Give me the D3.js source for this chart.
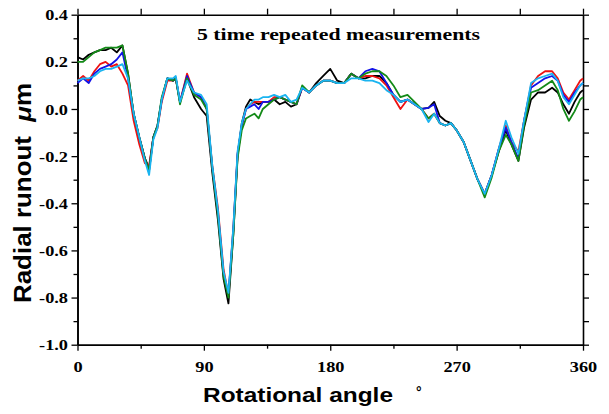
<!DOCTYPE html>
<html>
<head>
<meta charset="utf-8">
<script src="https://cdn.jsdelivr.net/npm/d3@7"></script>
<style>
  html, body { margin: 0; padding: 0; background: #fff; }
  svg { display: block; }
</style>
</head>
<body>
<svg id="chart" width="609" height="414"></svg>
<script>
// Rotational angle (degrees) at which each run was sampled
const angles = [0,4,8,12,16,20,24,28,32,
  36,40,44,48,51,54,57,60,
  64,68,70,73,78,83,88,92,
  96,100,104,107.5,111,114,117,120,
  123,126,129,132,136,140,144,148,
  152,156,160,165,170,175,180,185,
  190,195,200,205,210,215,220,225,
  230,235,240,245,250,254,258,262,
  266,270,275,280,285,290,295,300,
  305,309,314,318,323,328,333,338,
  342,346,350,354,358,360];

// Radial runout (µm), one array per repeated measurement
const run1 = [0.22,0.21,0.23,0.24,0.25,0.25,0.26,0.24,0.27,
  0.15,-0.02,-0.12,-0.21,-0.25,-0.12,-0.07,0.04,
  0.13,0.12,0.13,0.03,0.13,0.05,0.00,-0.03,
  -0.27,-0.47,-0.72,-0.825,-0.53,-0.20,-0.06,0.01,
  0.04,0.03,0.02,0.03,0.03,0.04,0.02,0.03,
  0.01,0.02,0.09,0.07,0.11,0.14,0.17,0.12,
  0.11,0.15,0.13,0.13,0.14,0.14,0.11,0.06,
  0.03,0.04,0.02,0.00,0.005,0.03,-0.03,-0.05,
  -0.06,-0.09,-0.14,-0.22,-0.30,-0.36,-0.28,-0.18,
  -0.09,-0.15,-0.22,-0.08,0.04,0.07,0.07,0.09,
  0.07,0.02,-0.02,0.03,0.07,0.08];

const run2 = [0.12,0.14,0.12,0.16,0.19,0.20,0.18,0.19,0.15,
  0.10,-0.05,-0.15,-0.23,-0.24,-0.12,-0.08,0.03,
  0.12,0.12,0.13,0.03,0.15,0.07,0.05,0.00,
  -0.24,-0.42,-0.68,-0.79,-0.50,-0.19,-0.07,0.00,
  0.02,0.03,0.03,0.03,0.03,0.05,0.05,0.04,
  0.03,0.02,0.09,0.07,0.10,0.12,0.12,0.11,
  0.11,0.15,0.13,0.14,0.14,0.13,0.10,0.05,
  0.00,0.04,0.02,0.00,-0.04,-0.02,-0.06,-0.07,
  -0.06,-0.09,-0.14,-0.22,-0.30,-0.36,-0.28,-0.17,
  -0.07,-0.14,-0.18,-0.05,0.10,0.14,0.16,0.16,
  0.13,0.07,0.04,0.08,0.12,0.13];

const run3 = [0.11,0.13,0.11,0.15,0.17,0.18,0.19,0.21,0.24,
  0.13,-0.02,-0.12,-0.21,-0.26,-0.12,-0.07,0.04,
  0.13,0.12,0.13,0.03,0.14,0.07,0.05,0.00,
  -0.25,-0.44,-0.70,-0.79,-0.51,-0.19,-0.07,0.00,
  0.01,0.02,0.00,0.03,0.03,0.04,0.05,0.04,
  0.03,0.02,0.09,0.07,0.10,0.12,0.12,0.11,
  0.11,0.15,0.13,0.16,0.17,0.16,0.11,0.06,
  0.03,0.04,0.02,0.00,0.005,0.02,-0.06,-0.07,
  -0.06,-0.09,-0.14,-0.22,-0.30,-0.36,-0.28,-0.17,
  -0.08,-0.14,-0.21,-0.05,0.09,0.11,0.13,0.14,
  0.12,0.06,0.03,0.07,0.10,0.11];

const run4 = [0.20,0.20,0.22,0.24,0.25,0.26,0.26,0.26,0.27,
  0.15,-0.02,-0.12,-0.21,-0.26,-0.12,-0.07,0.05,
  0.13,0.12,0.13,0.02,0.13,0.06,0.04,0.00,
  -0.25,-0.45,-0.71,-0.80,-0.53,-0.21,-0.09,-0.04,
  -0.03,-0.02,-0.04,0.00,0.02,0.04,0.05,0.04,
  0.03,0.02,0.10,0.07,0.10,0.12,0.12,0.11,
  0.11,0.15,0.13,0.15,0.16,0.16,0.14,0.10,
  0.05,0.06,0.03,0.00,-0.04,-0.02,-0.06,-0.07,
  -0.06,-0.09,-0.14,-0.22,-0.30,-0.375,-0.29,-0.18,
  -0.11,-0.15,-0.22,-0.07,0.07,0.08,0.10,0.12,
  0.08,0.00,-0.05,-0.01,0.04,0.05];

const run5 = [0.12,0.13,0.13,0.14,0.16,0.17,0.17,0.18,0.19,
  0.13,-0.02,-0.12,-0.22,-0.28,-0.13,-0.08,0.04,
  0.13,0.13,0.14,0.03,0.12,0.07,0.06,0.02,
  -0.24,-0.43,-0.69,-0.78,-0.50,-0.18,-0.06,0.00,
  0.02,0.04,0.04,0.05,0.05,0.06,0.05,0.06,
  0.03,0.04,0.09,0.07,0.10,0.12,0.12,0.11,
  0.11,0.13,0.13,0.12,0.12,0.11,0.08,0.06,
  0.03,0.04,0.02,0.00,-0.055,-0.02,-0.06,-0.07,
  -0.06,-0.09,-0.14,-0.22,-0.30,-0.36,-0.28,-0.17,
  -0.05,-0.12,-0.19,-0.05,0.11,0.13,0.14,0.15,
  0.12,0.05,0.02,0.06,0.10,0.11];

const runs = [run1, run2, run3, run4, run5];
const runColors = ["#000000", "#ee1111", "#1212e8", "#138a17", "#1ab4f0"];

// Axis ticks
const xMajorTicks = [0, 90, 180, 270, 360];
const xMinorTicks = [45, 135, 225, 315];
const yMajorTicks = [-1.0, -0.8, -0.6, -0.4, -0.2, 0.0, 0.2, 0.4];
const yMinorTicks = [-0.9, -0.7, -0.5, -0.3, -0.1, 0.1, 0.3];

const titleText = "5 time repeated measurements";
const xTitle = "Rotational angle";
const yTitle = "Radial runout";
const yUnit = "m";

const svg = d3.select("#chart");

const x = d3.scaleLinear().domain([0, 360]).range([77.5, 583]);
const y = d3.scaleLinear().domain([-1.0, 0.4]).range([344.7, 14.7]);

const serif = "'Liberation Serif', 'Times New Roman', serif";
const sans = "'Liberation Sans', Arial, sans-serif";
const sx = 1.22; // horizontal widening of the tick labels

function styleAxis(g) {
  g.select(".domain").attr("stroke", "#000").attr("stroke-width", 1.6);
  g.selectAll(".tick line").attr("stroke", "#000").attr("stroke-width", 1.3);
}

// top frame with upward ticks
svg.append("g")
  .attr("transform", `translate(0,${y(0.4)})`)
  .call(d3.axisTop(x).tickValues(xMajorTicks.concat(xMinorTicks)).tickSize(6).tickSizeOuter(0).tickFormat(""))
  .call(styleAxis);

// right frame with outward ticks every 0.1
svg.append("g")
  .attr("transform", `translate(${x(360)},0)`)
  .call(d3.axisRight(y).tickValues(yMajorTicks.concat(yMinorTicks)).tickSize(6).tickSizeOuter(0).tickFormat(""))
  .call(styleAxis);

// bottom axis: minor then major
svg.append("g")
  .attr("transform", `translate(0,${y(-1.0)})`)
  .call(d3.axisBottom(x).tickValues(xMinorTicks).tickSize(4).tickSizeOuter(0).tickFormat(""))
  .call(styleAxis);

const gx = svg.append("g")
  .attr("transform", `translate(0,${y(-1.0)})`)
  .call(d3.axisBottom(x).tickValues(xMajorTicks).tickSize(6).tickSizeOuter(0).tickFormat(d => String(d)))
  .call(styleAxis);
gx.selectAll(".tick text")
  .attr("y", 27.5).attr("dy", 0)
  .attr("font-family", serif).attr("font-weight", "bold").attr("font-size", 15)
  .attr("fill", "#000")
  .attr("transform", `scale(${sx},1)`);

// left axis: minor then major
svg.append("g")
  .attr("transform", `translate(${x(0)},0)`)
  .call(d3.axisLeft(y).tickValues(yMinorTicks).tickSize(4).tickSizeOuter(0).tickFormat(""))
  .call(styleAxis);

const gy = svg.append("g")
  .attr("transform", `translate(${x(0)},0)`)
  .call(d3.axisLeft(y).tickValues(yMajorTicks).tickSize(6).tickSizeOuter(0).tickFormat(d => d.toFixed(1)))
  .call(styleAxis);
gy.selectAll(".tick text")
  .attr("x", -9.5 / sx).attr("dy", "0.34em")
  .attr("font-family", serif).attr("font-weight", "bold").attr("font-size", 15)
  .attr("fill", "#000")
  .attr("transform", `scale(${sx},1)`);

// measurement traces
const line = d3.line()
  .x((d, i) => x(angles[i]))
  .y(d => y(d));

svg.append("g")
  .selectAll("path")
  .data(runs)
  .join("path")
  .attr("d", d => line(d))
  .attr("fill", "none")
  .attr("stroke", (d, i) => runColors[i])
  .attr("stroke-width", 1.8)
  .attr("stroke-linejoin", "round");

// title
svg.append("text")
  .attr("x", 197).attr("y", 40)
  .attr("font-family", serif).attr("font-weight", "bold").attr("font-size", 17)
  .attr("textLength", 283).attr("lengthAdjust", "spacingAndGlyphs")
  .attr("fill", "#000")
  .text(titleText);

// x axis title with degree mark
svg.append("text")
  .attr("x", 203).attr("y", 402)
  .attr("font-family", sans).attr("font-weight", "bold").attr("font-size", 21)
  .attr("textLength", 190).attr("lengthAdjust", "spacingAndGlyphs")
  .attr("fill", "#000")
  .text(xTitle);

svg.append("text")
  .attr("x", 416).attr("y", 397)
  .attr("font-family", sans).attr("font-weight", "bold").attr("font-size", 14)
  .attr("fill", "#000")
  .text("°");

// y axis title: "Radial runout  µm"
const yt = svg.append("text")
  .attr("transform", "translate(30.5,193) rotate(-90)")
  .attr("text-anchor", "middle")
  .attr("font-family", sans).attr("font-weight", "bold").attr("font-size", 23)
  .attr("fill", "#000")
  .attr("textLength", 220).attr("lengthAdjust", "spacingAndGlyphs");
yt.append("tspan").text(yTitle + "\u00a0\u00a0");
yt.append("tspan").attr("font-style", "italic").text("\u03bc");
yt.append("tspan").text(yUnit);
</script>
</body>
</html>
